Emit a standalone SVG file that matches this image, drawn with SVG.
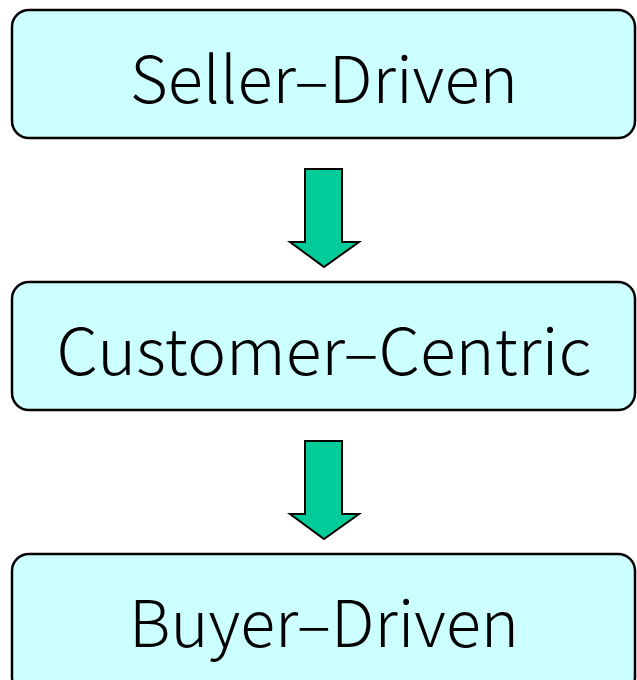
<svg xmlns="http://www.w3.org/2000/svg" width="637" height="680" viewBox="0 0 637 680">
  <style>
    .box { fill: #ccffff; stroke: #000; stroke-width: 2.5; }
    .label { font-family: "Noto Sans CJK KR", "Liberation Sans", sans-serif; font-weight: 300; font-size: 64px; fill: #000; text-anchor: middle; }
    .arrow { fill: #00cc99; stroke: #000; stroke-width: 2; stroke-linejoin: miter; }
  </style>
  <rect width="637" height="680" fill="#fff"/>
  <g id="seller-driven">
    <rect class="box" x="12" y="10" width="623" height="128" rx="17"/>
    <text class="label" x="324" y="103" textLength="388" lengthAdjust="spacingAndGlyphs">Seller–Driven</text>
  </g>
  <g id="customer-centric">
    <rect class="box" x="12" y="282" width="623" height="128" rx="17"/>
    <text class="label" x="324" y="375" textLength="535" lengthAdjust="spacingAndGlyphs">Customer–Centric</text>
  </g>
  <g id="buyer-driven">
    <rect class="box" x="12" y="554" width="623" height="140" rx="17"/>
    <text class="label" x="324" y="647" textLength="390" lengthAdjust="spacingAndGlyphs">Buyer–Driven</text>
  </g>
  <g id="connectors">
    <polygon class="arrow" points="305,169 342,169 342,242 359,242 324,267 290,242 305,242"/>
    <polygon class="arrow" points="305,441 342,441 342,514 359,514 324,539 290,514 305,514"/>
  </g>
</svg>
